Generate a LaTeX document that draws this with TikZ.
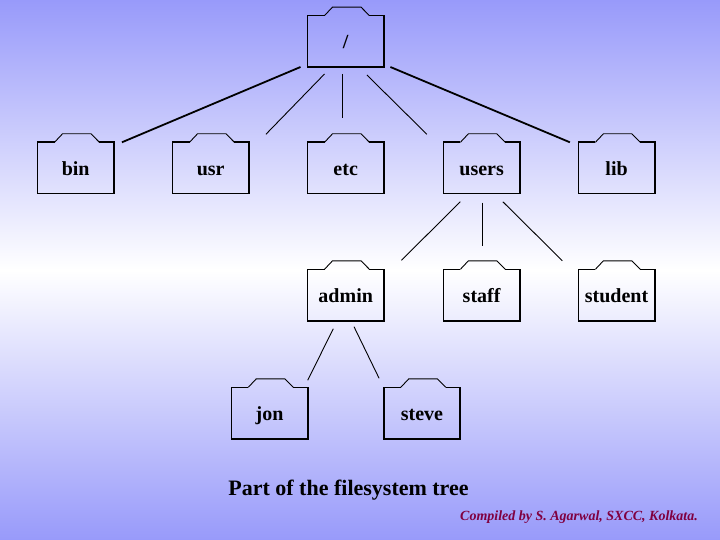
\documentclass[tikz,border=0pt]{standalone}
\usepackage{fontspec}
\setmainfont{Liberation Serif}

\definecolor{bgblue}{RGB}{152,154,250}
\definecolor{creditred}{RGB}{128,0,64}

\tikzset{
  folder/.style={rectangle, minimum width=76pt, minimum height=51pt, inner sep=0pt,
    text height=17pt, text depth=2pt,
    font=\fontsize{20}{22}\selectfont\bfseries,
    append after command={\pgfextra{\let\fnode\tikzlastnode
      % body, open under the tab
      \draw[line width=1.6pt, line join=miter]
        ([xshift=17pt]\fnode.north west) -- (\fnode.north west) -- (\fnode.south west)
        -- (\fnode.south east) -- (\fnode.north east) -- ([xshift=-14.5pt]\fnode.north east);
      % tab
      \draw[line width=0.9pt]
        ([xshift=17pt]\fnode.north west) -- ([shift={(25pt,8.5pt)}]\fnode.north west)
        -- ([shift={(53.5pt,8.5pt)}]\fnode.north west) -- ([xshift=-14.5pt]\fnode.north east);
    }}
  },
  link/.style={line width=0.9pt},
  thicklink/.style={line width=1.8pt},
  caption/.style={font=\fontsize{22}{24}\selectfont\bfseries},
  credit/.style={font=\fontsize{14}{16}\selectfont\bfseries\itshape, text=creditred}
}

\begin{document}
\begin{tikzpicture}[x=1pt, y=-1pt]
\useasboundingbox (0,0) rectangle (720,540);
\shade[top color=bgblue, bottom color=bgblue, middle color=white] (0,0) rectangle (720,540);

% folders
\node[folder] (root) at (345.7,41.3) {/};
\node[folder] (bin) at (75.7,168) {bin};
\node[folder] (usr) at (210.7,168) {usr};
\node[folder] (etc) at (345.7,168) {etc};
\node[folder] (users) at (481.6,168) {users};
\node[folder] (lib) at (616.6,168) {lib};
\node[folder] (admin) at (345.7,295) {admin};
\node[folder] (staff) at (481.6,295) {staff};
\node[folder] (student) at (616.6,295) {student};
\node[folder] (jon) at (269.5,413) {jon};
\node[folder] (steve) at (422,413) {steve};

% connectors
\draw[thicklink] ([xshift=-7pt]root.south west) -- ([xshift=8pt]bin.north east);
\draw[link] ([shift={(17pt,-7pt)}]root.south west) -- ([shift={(17pt,8pt)}]usr.north east);
\draw[link] ([shift={(-3pt,-7pt)}]root.south) -- ([shift={(-3pt,24pt)}]etc.north);
\draw[link] ([shift={(-17pt,-8pt)}]root.south east) -- ([shift={(-16.5pt,8pt)}]users.north west);
\draw[thicklink] ([xshift=6.5pt]root.south east) -- ([xshift=-8.5pt]lib.north west);
\draw[link] ([shift={(17pt,-8pt)}]users.south west) -- ([shift={(17.5pt,9pt)}]admin.north east);
\draw[link] ([shift={(0.7pt,-9pt)}]users.south) -- ([shift={(0.7pt,23pt)}]staff.north);
\draw[link] ([shift={(-17pt,-8pt)}]users.south east) -- ([shift={(-16pt,8.5pt)}]student.north west);
\draw[link] ([shift={(-12.4pt,-8pt)}]admin.south) -- ([yshift=7pt]jon.north east);
\draw[link] ([shift={(8.3pt,-6pt)}]admin.south) -- ([shift={(-4.7pt,9pt)}]steve.north west);

% texts
\node[caption] (title) at (348.5,490) {Part of the filesystem tree};
\node[credit] (credit) at (579,517) {Compiled by S. Agarwal, SXCC, Kolkata.};
\end{tikzpicture}
\end{document}
